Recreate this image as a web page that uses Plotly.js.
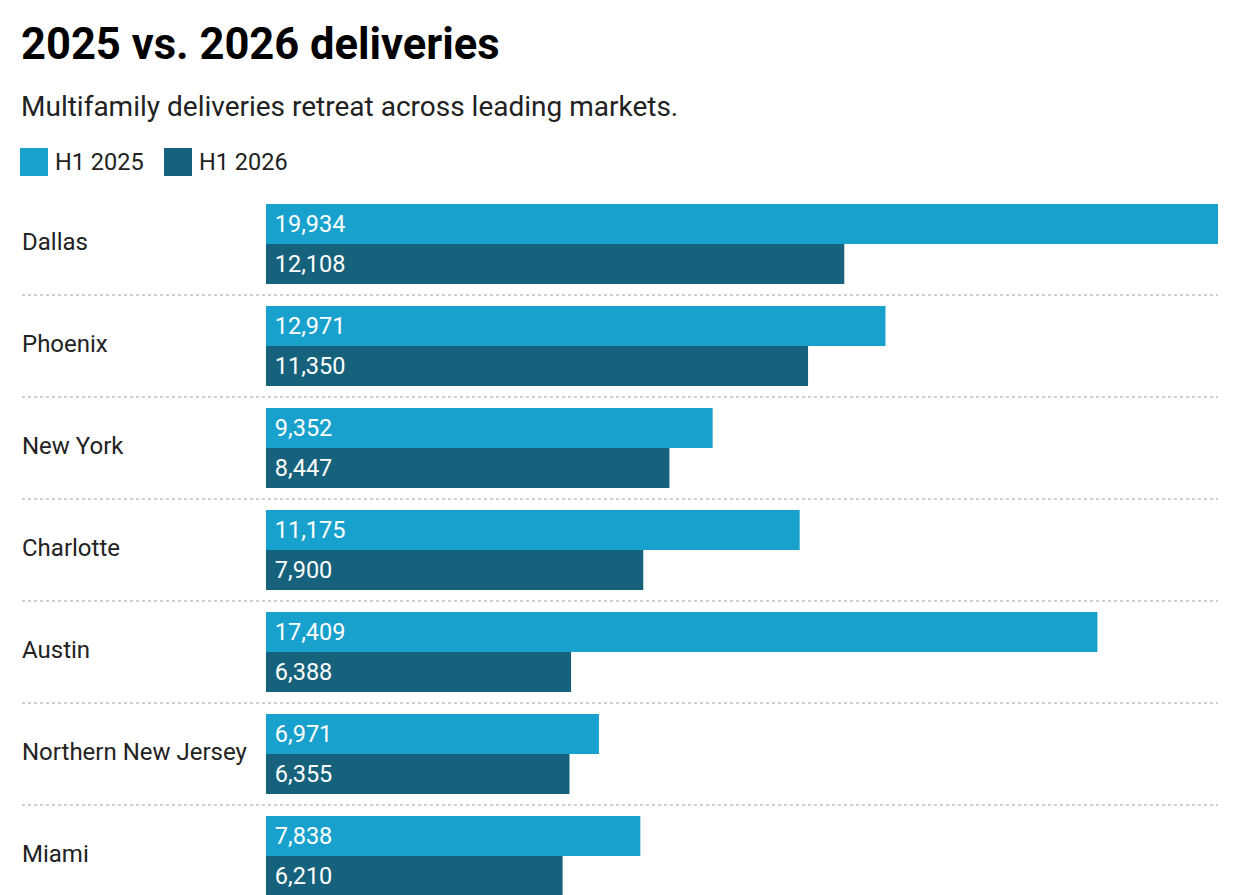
<!DOCTYPE html>
<html>
<head>
<meta charset="utf-8">
<script src="https://cdn.plot.ly/plotly-3.0.1.min.js"></script>
<style>
  html, body { margin: 0; padding: 0; background: #ffffff; overflow: hidden; }
  #chart { width: 1238px; height: 895px; }
</style>
</head>
<body>
<div id="chart"></div>
<script>
const markets = ["Dallas", "Phoenix", "New York", "Charlotte", "Austin", "Northern New Jersey", "Miami"];
const h1_2025 = [19934, 12971, 9352, 11175, 17409, 6971, 7838];
const h1_2026 = [12108, 11350, 8447, 7900, 6388, 6355, 6210];
const seriesNames = ["H1 2025", "H1 2026"];
const chartTitle = "2025 vs. 2026 deliveries";
const chartSubtitle = "Multifamily deliveries retreat across leading markets.";

const colors = ["#19A1CD", "#16627C"];
const W = 1238, H = 895;
const mL = 266, mR = 20, mT = 193, mB = 0;
const plotW = W - mL - mR, plotH = H - mT - mB;
const px = x => (x - mL) / plotW;
const py = y => (H - mB - y) / plotH;
const font = "Roboto, 'Liberation Sans', sans-serif";
const textColor = "#222222";

const traces = [h1_2025, h1_2026].map((vals, i) => ({
  type: "bar",
  orientation: "h",
  name: seriesNames[i],
  y: markets,
  x: vals,
  marker: { color: colors[i], line: { width: 0 } },
  texttemplate: "\u00a0%{x:,}",
  textposition: "inside",
  insidetextanchor: "start",
  textfont: { family: font, size: 23.5, color: "#ffffff" },
  constraintext: "none",
  hoverinfo: "skip",
  showlegend: false
}));

const annotations = [];
const shapes = [];

annotations.push({
  xref: "paper", yref: "paper", x: px(20), y: py(45),
  xanchor: "left", yanchor: "middle", showarrow: false, borderpad: 0,
  text: "<b>" + chartTitle + "</b>",
  font: { family: font, size: 43.5, color: "#000000" }
});
annotations.push({
  xref: "paper", yref: "paper", x: px(20), y: py(106),
  xanchor: "left", yanchor: "middle", showarrow: false, borderpad: 0,
  text: chartSubtitle,
  font: { family: font, size: 28, color: textColor }
});

const legendSq = [20, 164];
const legendTx = [54, 198];
seriesNames.forEach((n, i) => {
  shapes.push({
    type: "rect", xref: "paper", yref: "paper",
    x0: px(legendSq[i]), x1: px(legendSq[i] + 28), y0: py(176), y1: py(148),
    fillcolor: colors[i], line: { width: 0 }
  });
  annotations.push({
    xref: "paper", yref: "paper", x: px(legendTx[i]), y: py(162),
    xanchor: "left", yanchor: "middle", showarrow: false, borderpad: 0,
    text: n, font: { family: font, size: 23.5, color: textColor }
  });
});

markets.forEach((m, i) => {
  annotations.push({
    xref: "paper", yref: "y", x: px(21), y: i, yshift: 2,
    xanchor: "left", yanchor: "middle", showarrow: false, borderpad: 0,
    text: m, font: { family: font, size: 24, color: textColor }
  });
  if (i < markets.length - 1) {
    shapes.push({
      type: "line", xref: "paper", yref: "y",
      x0: px(22), x1: 1, y0: i + 0.5, y1: i + 0.5,
      line: { color: "#cfcfcf", width: 2, dash: "dot" }
    });
  }
});

const layout = {
  width: W, height: H,
  margin: { l: mL, r: mR, t: mT, b: mB, pad: 0 },
  paper_bgcolor: "#ffffff", plot_bgcolor: "#ffffff",
  barmode: "group",
  bargap: 0.216,
  bargroupgap: 0,
  showlegend: false,
  hovermode: false,
  xaxis: { range: [0, 19934], visible: false, fixedrange: true },
  yaxis: {
    type: "category", range: [-0.5 + plotH / 102, -0.5],
    showticklabels: false, showgrid: false, zeroline: false, showline: false,
    ticks: "", fixedrange: true
  },
  annotations: annotations,
  shapes: shapes,
  font: { family: font }
};

Plotly.newPlot("chart", traces, layout, { displayModeBar: false, staticPlot: true });
</script>
</body>
</html>
